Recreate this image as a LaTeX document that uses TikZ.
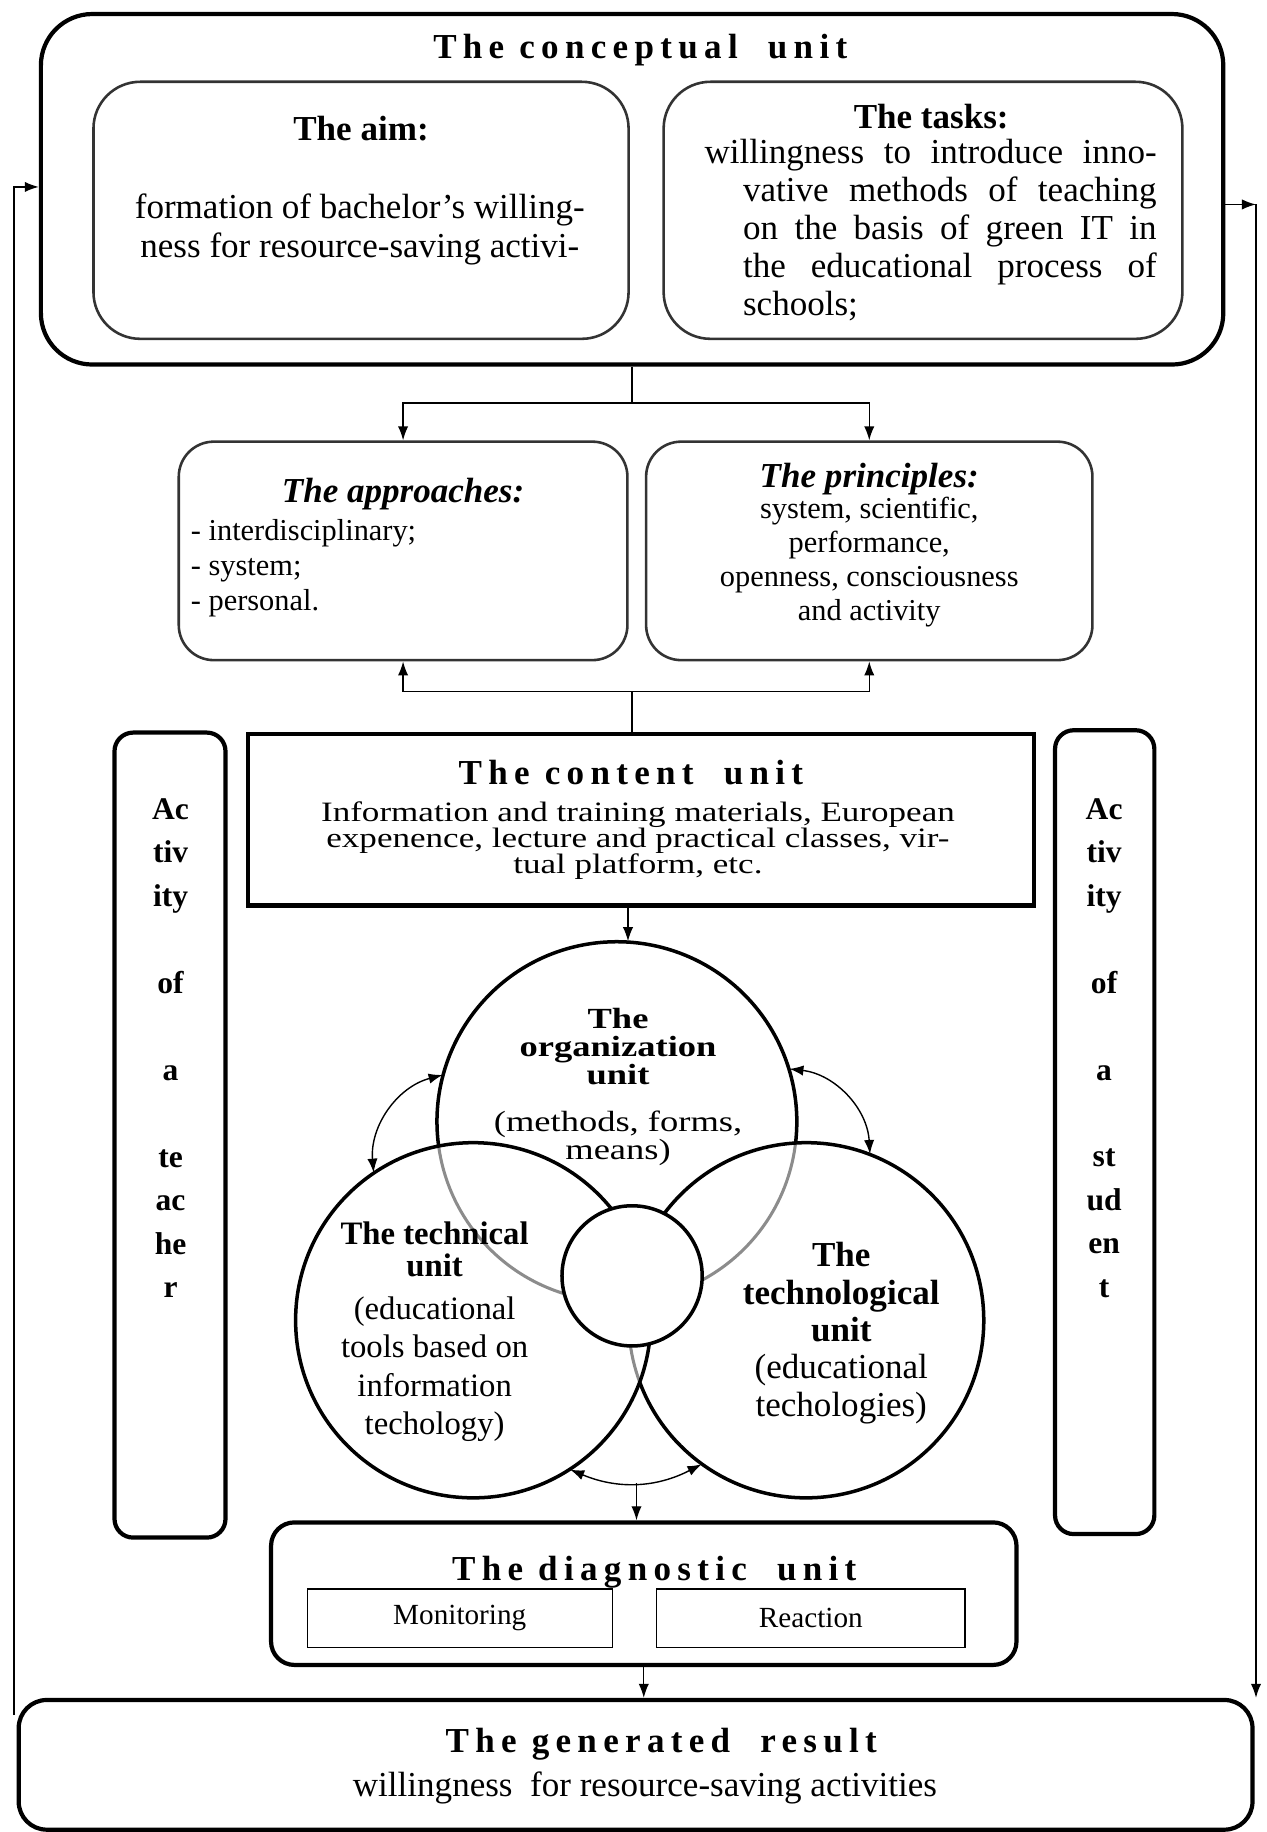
\documentclass[tikz,border=0pt]{standalone}
\usepackage{fontspec}
\setmainfont{Liberation Serif}
\newfontfamily\widefont[FakeStretch=1.25]{Liberation Serif}
\newfontfamily\spacedfont[LetterSpace=18]{Liberation Serif}
\usetikzlibrary{arrows.meta}
\begin{document}
\begin{tikzpicture}[x=0.5pt,y=-0.5pt,
  thickbox/.style={draw, line width=1.8pt, inner sep=0},
  softbox/.style={draw=black!80, line width=1.1pt, inner sep=0},
  thinbox/.style={draw, line width=0.6pt, inner sep=0},
  ring/.style={line width=1.5pt},
  greyring/.style={line width=1.3pt, draw=black!45},
  arr/.style={line width=0.6pt, -{Latex[length=6pt,width=4.4pt]}},
  darr/.style={line width=0.6pt, {Latex[length=6pt,width=4.4pt]}-{Latex[length=6pt,width=4.4pt]}},
  txt/.style={inner sep=0, align=center},
  ttl/.style={inner sep=0, font=\spacedfont\bfseries\fontsize{15}{17}\selectfont},
  unitcirc/.style={circle, inner sep=0}
]
\fill[white] (0,0) rectangle (1084,1568);
\useasboundingbox (0,0) rectangle (1084,1568);

% boxes
\node[thickbox, rounded corners=22pt, minimum width=506pt, minimum height=150pt] (concept) at (541,162) {};
\node[softbox, rounded corners=20pt, minimum width=229pt, minimum height=110pt] (aim) at (309,180) {};
\node[softbox, rounded corners=20pt, minimum width=222pt, minimum height=110pt] (tasks) at (790,180) {};
\node[softbox, rounded corners=15pt, minimum width=192pt, minimum height=93.5pt] (appr) at (345,471.5) {};
\node[softbox, rounded corners=15pt, minimum width=191pt, minimum height=93.5pt] (princ) at (744,471.5) {};
\node[thickbox, minimum width=336.5pt, minimum height=73.5pt] (content) at (548.5,701.5) {};
\node[thickbox, rounded corners=8pt, minimum width=47.5pt, minimum height=344.5pt] (actL) at (145.5,971.5) {};
\node[thickbox, rounded corners=8pt, minimum width=42.5pt, minimum height=344pt] (actR) at (945.5,969) {};
\node[thickbox, rounded corners=10pt, minimum width=319pt, minimum height=61pt] (diag) at (551,1364) {};
\node[thinbox, minimum width=130.5pt, minimum height=25pt, font=\fontsize{12.5}{14}\selectfont] (mon) at (393.5,1385) {Monitoring};
\node[thinbox, minimum width=132pt, minimum height=25pt, font=\fontsize{12.5}{14}\selectfont] (react) at (694,1385) {Reaction};
\node[thickbox, rounded corners=12pt, minimum width=528pt, minimum height=55.5pt] (result) at (544,1510.5) {};

% circles
\node[unitcirc, minimum size=154pt] (org) at (528,960) {};
\node[unitcirc, minimum size=152pt] (tech) at (405,1130) {};
\node[unitcirc, minimum size=152pt] (techno) at (690,1130) {};
\draw[greyring] ([shift={(6.8:154)}]org.center) arc[start angle=6.8, end angle=172.2, radius=154];
\draw[greyring] ([shift={(159.6:152)}]techno.center) arc[start angle=159.6, end angle=175, radius=152];
\draw[ring] ([shift={(172.2:154)}]org.center) arc[start angle=172.2, end angle=366.8, radius=154];
\draw[ring] (tech.center) circle[radius=152];
\draw[ring] ([shift={(175:152)}]techno.center) arc[start angle=175, end angle=519.6, radius=152];
\node[unitcirc, draw, line width=1.5pt, fill=white, minimum size=60pt] (core) at (541,1092) {};

% texts
\node[ttl] (tconcept) at (548,43) {The conceptual\ \ unit};
\node[txt, font=\bfseries\fontsize{15}{17}\selectfont] (taim) at (309,110) {The aim:};
\node[txt, font=\fontsize{15}{16.5}\selectfont] (baim) at (308,196.5) {formation of bachelor’s willing-\\ness for resource-saving activi-};
\node[txt, font=\bfseries\fontsize{15}{17}\selectfont] (ttasks) at (797,100) {The tasks:};
\node[inner sep=0, align=left, font=\fontsize{15}{16.3}\selectfont] (btasks) at (796.5,197)
  {\makebox[193.5pt][s]{willingness to introduce inno-}\\
   \makebox[193.5pt][r]{\makebox[177pt][s]{vative methods of teaching}}\\
   \makebox[193.5pt][r]{\makebox[177pt][s]{on the basis of green IT in}}\\
   \makebox[193.5pt][r]{\makebox[177pt][s]{the educational process of}}\\
   \makebox[193.5pt][r]{\makebox[177pt][l]{schools;}}};

\node[txt, font=\bfseries\itshape\fontsize{15}{17}\selectfont] (tappr) at (345,423) {The approaches:};
\node[inner sep=0, align=left, anchor=west, font=\fontsize{13}{15}\selectfont] (bappr) at (163,486) {{-} interdisciplinary;\\{-} system;\\{-} personal.};
\node[txt, font=\bfseries\itshape\fontsize{15}{17}\selectfont] (tprinc) at (744,410) {The principles:};
\node[txt, font=\fontsize{13}{14.5}\selectfont] (bprinc) at (744,481) {system, scientific,\\performance,\\openness, consciousness\\and activity};

\node[ttl] (tcontent) at (540,661) {The content\ \ unit};
\node[txt, font=\widefont\fontsize{12}{11.3}\selectfont] (bcontent) at (546,719.5) {Information and training materials, European\\expenence, lecture and practical classes, vir-\\tual platform, etc.};

\node[txt, font=\bfseries\fontsize{13.5}{18.6}\selectfont] (tactL) at (146,897) {Ac\\tiv\\ity\\[18.6pt]of\\[18.6pt]a\\[18.6pt]te\\ac\\he\\r};
\node[txt, font=\bfseries\fontsize{13.5}{18.6}\selectfont] (tactR) at (945,897) {Ac\\tiv\\ity\\[18.6pt]of\\[18.6pt]a\\[18.6pt]st\\ud\\en\\t};

\node[txt, font=\widefont\fontsize{12.5}{12}\selectfont] (torg) at (529,930) {\textbf{The}\\\textbf{organization}\\\textbf{unit}\\[8pt](methods, forms,\\means)};
\node[txt, font=\fontsize{14}{16.5}\selectfont] (ttech) at (372,1140) {\textbf{The technical}\\[-3pt]\textbf{unit}\\[2pt](educational\\tools based on\\information\\techology)};
\node[txt, font=\fontsize{15}{16}\selectfont] (ttechno) at (720,1141) {\textbf{The}\\\textbf{technological}\\\textbf{unit}\\(educational\\techologies)};

\node[ttl] (tdiag) at (560,1346) {The diagnostic\ \ unit};
\node[ttl] (tresult) at (566,1493) {The generated\ \ result};
\node[txt, font=\fontsize{15}{17}\selectfont] (bresult) at (552,1530) {willingness\ \ for resource-saving activities};

% connectors
\coordinate (j1) at (541,345);
\coordinate (j2) at (541,592);
\draw[line width=0.6pt] (concept.south) -- (j1);
\draw[arr] (j1) -| (appr.north);
\draw[arr] (j1) -| (princ.north);
\draw[arr] (j2) -| (appr.south);
\draw[arr] (j2) -| (princ.south);
\draw[line width=0.6pt] (j2) -- (j2 |- content.north);
\draw[arr] ([xshift=-5.5pt]content.south) -- ([xshift=-5.5pt]content.south |- org.north);

\draw[darr] (org.165) to[bend right=40] (tech.124);
\draw[darr] (org.17) to[bend left=40] (techno.69);
\draw[darr] (tech.303) to[bend right=25] coordinate[pos=0.5] (bm) (techno.234);
\draw[arr] (bm) -- (bm |- diag.north);
\draw[arr] (diag.south) -- (diag.south |- result.north);

\coordinate (fbl) at (12,1468);
\coordinate (cl) at (12,160);
\draw[arr] (fbl) -- (cl) -- (cl -| concept.west);
\coordinate (fbr) at (1075,175);
\draw[arr] (concept.east |- fbr) -- (fbr);
\draw[arr] (fbr) -- (fbr |- result.north);
\end{tikzpicture}
\end{document}
